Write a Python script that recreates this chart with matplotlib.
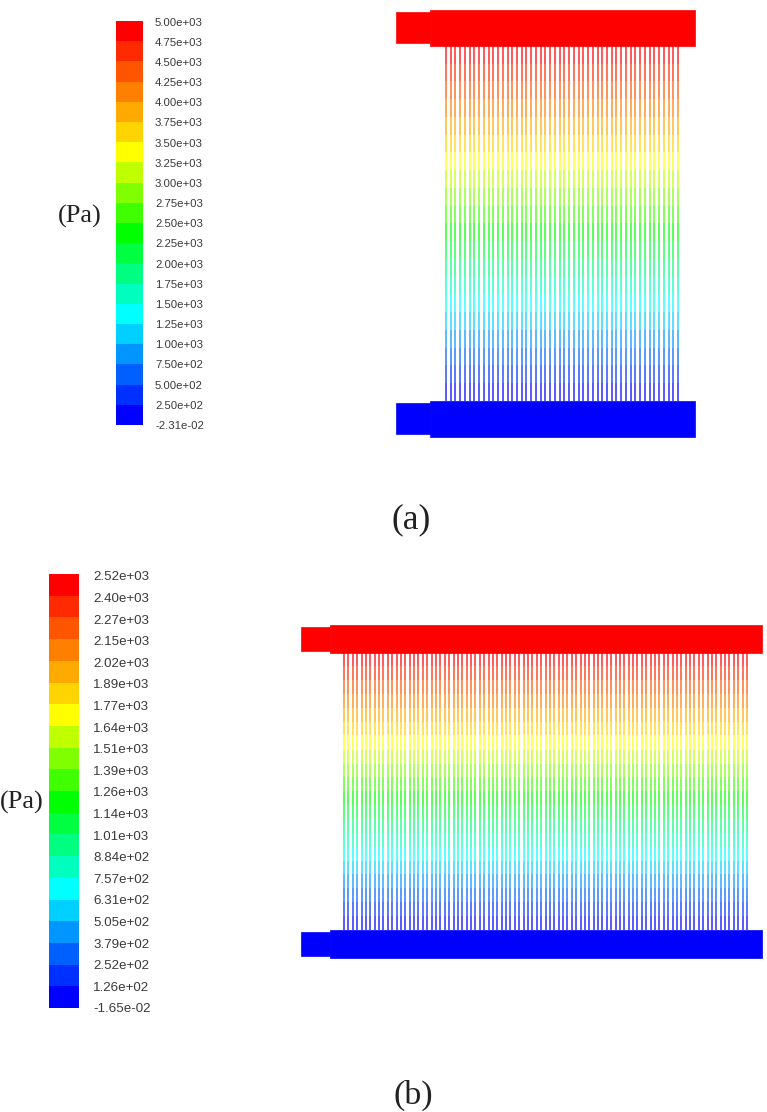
import matplotlib
matplotlib.use("Agg")
import matplotlib.pyplot as plt
from matplotlib.patches import Rectangle
import numpy as np

# contour levels read from the two legends, top to bottom
levels_a = [5.00e+03, 4.75e+03, 4.50e+03, 4.25e+03, 4.00e+03, 3.75e+03, 3.50e+03,
            3.25e+03, 3.00e+03, 2.75e+03, 2.50e+03, 2.25e+03, 2.00e+03, 1.75e+03,
            1.50e+03, 1.25e+03, 1.00e+03, 7.50e+02, 5.00e+02, 2.50e+02, -2.31e-02]
levels_b = [2.52e+03, 2.40e+03, 2.27e+03, 2.15e+03, 2.02e+03, 1.89e+03, 1.77e+03,
            1.64e+03, 1.51e+03, 1.39e+03, 1.26e+03, 1.14e+03, 1.01e+03, 8.84e+02,
            7.57e+02, 6.31e+02, 5.05e+02, 3.79e+02, 2.52e+02, 1.26e+02, -1.65e-02]

# one colour per band, top to bottom
band_colours = ["#ff0000", "#ff2a00", "#ff5500", "#ff8000", "#ffaa00", "#ffd400", "#ffff00",
                "#bfff00", "#80ff00", "#40ff00", "#00ff00", "#00ff40", "#00ff80", "#00ffbf",
                "#00ffff", "#00d0ff", "#0095ff", "#0060ff", "#0030ff", "#0000ff"]

tube_count_a = 50
tube_count_b = 93

plt.rcParams["font.family"] = ["Liberation Sans", "DejaVu Sans"]
fig = plt.figure(figsize=(7.67, 11.12), dpi=100)
ax = fig.add_axes([0, 0, 1, 1])
ax.set_xlim(0, 767)
ax.set_ylim(1112, 0)
ax.axis("off")


def box(x0, x1, y0, y1, colour):
    ax.add_patch(Rectangle((x0, y0), x1 - x0, y1 - y0, fc=colour, ec=colour, lw=0.5))


def legend(levels, x0, x1, y0, y1, text_x, text_y0, text_y1, size):
    ys = np.linspace(y0, y1, len(levels))
    for i in range(len(band_colours)):
        ax.add_patch(Rectangle((x0, ys[i]), x1 - x0, ys[i + 1] - ys[i], fc=band_colours[i], lw=0))
    for y, v in zip(np.linspace(text_y0, text_y1, len(levels)), levels):
        ax.text(text_x, y, f"{v:.2e}", fontsize=size, color="#3a3a3a", va="center_baseline", ha="left")


def tubes(levels, count, x0, x1, y0, y1):
    xs = np.linspace(x0, x1, count)
    p = np.array(levels)
    # linear drop along the tube, so a level maps straight onto y
    edges = y0 + (p[0] - p) / (p[0] - p[-1]) * (y1 - y0)
    for i in range(len(band_colours)):
        ax.vlines(xs, edges[i], edges[i + 1], colors=band_colours[i], lw=1.3, alpha=0.7)


# (a)
legend(levels_a, 116, 143, 21, 425, 155, 21.5, 425, 8.2)
tubes(levels_a, tube_count_a, 446, 678, 46, 401)
box(396, 430, 12, 43, "#ff0000")
box(430, 695, 10, 46, "#ff0000")
box(396, 430, 403, 434, "#0000ff")
box(430, 695, 401, 437, "#0000ff")
ax.text(58, 216, "(Pa)", family="Liberation Serif", fontsize=19, color="#222222", va="center")
ax.text(411.5, 520, "(a)", family="Liberation Serif", fontsize=25.5, color="#222222", va="center", ha="center")

# (b)
legend(levels_b, 49, 79, 574, 1008, 93, 576, 1008, 9.6)
tubes(levels_b, tube_count_b, 344, 747, 653, 930)
box(301, 330, 627, 651, "#ff0000")
box(330, 762, 625, 653, "#ff0000")
box(301, 330, 932, 956, "#0000ff")
box(330, 762, 930, 958, "#0000ff")
ax.text(0, 802, "(Pa)", family="Liberation Serif", fontsize=19, color="#222222", va="center")
ax.text(413, 1095, "(b)", family="Liberation Serif", fontsize=24.5, color="#222222", va="center", ha="center")

fig.savefig("out.png", dpi=100)
